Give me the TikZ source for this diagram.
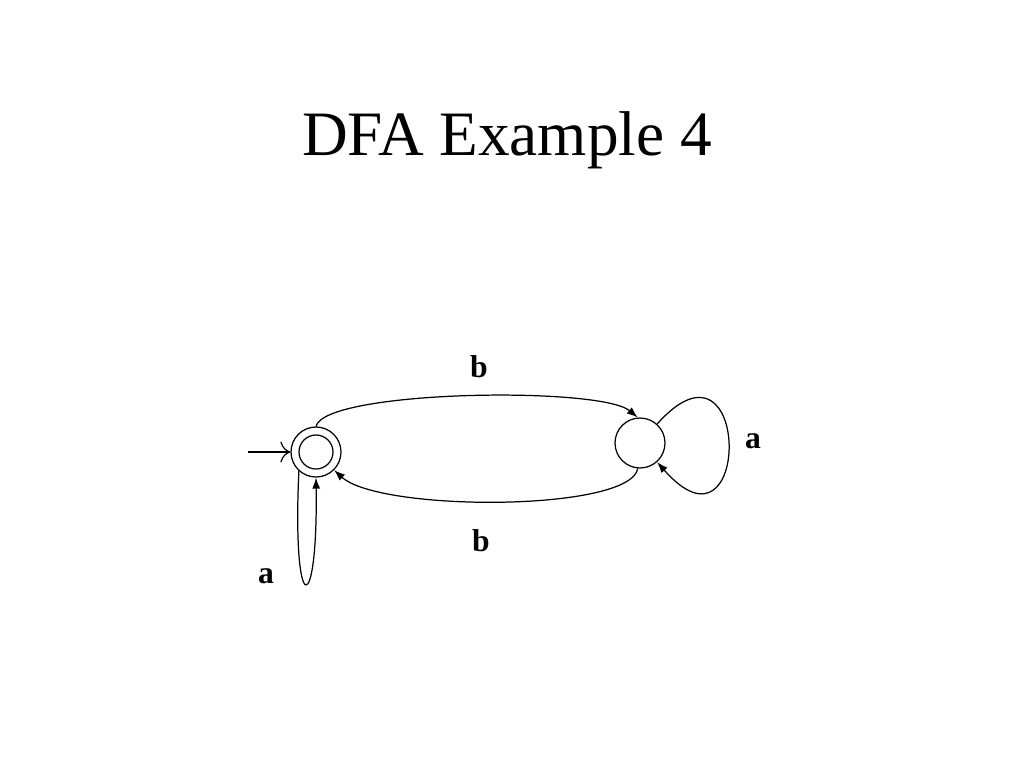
\documentclass[tikz,border=0pt]{standalone}
\usepackage{fontspec}
\setmainfont{Liberation Serif}
\usetikzlibrary{arrows.meta}
\tikzset{
    state/.style={draw,circle,line width=0.7pt,minimum size=1cm,inner sep=0pt},
    edge/.style={line width=0.7pt,-{Latex[length=2.2mm,width=1.6mm]}},
    lbl/.style={font=\fontsize{18}{20}\selectfont\bfseries,anchor=base}
}
\begin{document}
\begin{tikzpicture}[x=0.02cm,y=-0.02cm]
        \useasboundingbox (0,0) rectangle (1024,768);

        %%%%%%%%%% Titolo %%%%%%%%%%
        \node[anchor=base,font=\fontsize{36}{40}\selectfont] (title) at (507,155) {DFA Example 4};

        %%%%%%%%%% Stati %%%%%%%%%%
        \node[state] (q0) at (316,452) {};
        \node[state,minimum size=0.68cm] (q0in) at (q0) {};
        \node[state] (q1) at (640,443) {};
        \coordinate (start) at (248,452);

        %%%%%%%%%% Archi %%%%%%%%%%
        \draw[line width=0.7pt,-{To[length=2mm]}] (start) -- (q0);
        \draw[edge] (q0.90) .. controls (325,390) and (600,386) .. (q1.95);
        \draw[edge] (q1.265) .. controls (630,512) and (380,512) .. (q0.-45);
        \draw[edge] (q1.48) .. controls (752,318) and (752,570) .. (q1.-48);
        \draw[edge] (q0.-132) .. controls (292,620) and (318,620) .. (q0.-90);

        %%%%%%%%%% Etichette %%%%%%%%%%
        \node[lbl] (ltop) at (479,377) {b};
        \node[lbl] (lbot) at (481,551) {b};
        \node[lbl] (lright) at (753,448) {a};
        \node[lbl] (lleft) at (266,583) {a};
\end{tikzpicture}
\end{document}
